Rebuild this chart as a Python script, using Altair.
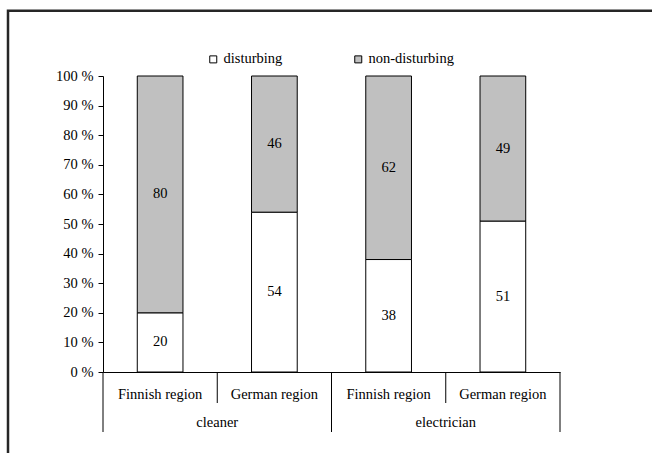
import altair as alt
import pandas as pd

# ---- data ----
occupations = ["cleaner", "cleaner", "electrician", "electrician"]
regions = ["Finnish region", "German region", "Finnish region", "German region"]
disturbing = [20, 54, 38, 51]
non_disturbing = [80, 46, 62, 49]
series_names = ["disturbing", "non-disturbing"]
series_colors = ["#FFFFFF", "#C0C0C0"]
y_ticks = [0, 10, 20, 30, 40, 50, 60, 70, 80, 90, 100]

FONT = "Liberation Serif, Times New Roman, serif"
FS = 14.5
W, H = 457, 296

keys = [f"{o}|{r}" for o, r in zip(occupations, regions)]

rows = []
for k, o, r, d, n in zip(keys, occupations, regions, disturbing, non_disturbing):
    rows.append(dict(key=k, occupation=o, region=r, series=series_names[0],
                     value=d, start=0, end=d, mid=d / 2))
    rows.append(dict(key=k, occupation=o, region=r, series=series_names[1],
                     value=n, start=d, end=d + n, mid=d + n / 2))
df = pd.DataFrame(rows)

xscale = alt.Scale(domain=keys, paddingInner=0, paddingOuter=0)
yscale = alt.Scale(domain=[0, 100], nice=False)
xaxis = alt.Axis(labels=False, ticks=False, title=None,
                 domainColor="black", domainWidth=1)
yaxis = alt.Axis(values=y_ticks, labelExpr="datum.value + ' %'",
                 title=None, grid=False, domainColor="black",
                 tickColor="black", tickSize=5, labelPadding=5,
                 labelFont=FONT, labelFontSize=FS, labelColor="black")

bars = alt.Chart(df).mark_bar(
    width=alt.RelativeBandSize(0.4), stroke="black", strokeWidth=1
).encode(
    x=alt.X("key:N", sort=keys, scale=xscale, axis=xaxis),
    y=alt.Y("start:Q", scale=yscale, axis=yaxis),
    y2="end:Q",
    color=alt.Color("series:N",
                    scale=alt.Scale(domain=series_names, range=series_colors),
                    legend=alt.Legend(title=None, orient="none", direction="horizontal",
                                      legendX=103, legendY=-24, padding=0,
                                      symbolType="square", symbolSize=49,
                                      symbolStrokeColor="black", symbolStrokeWidth=1,
                                      labelFont=FONT, labelFontSize=FS,
                                      labelColor="black", labelOffset=3,
                                      columnPadding=68)),
)

labels = alt.Chart(df).mark_text(
    font=FONT, fontSize=FS, color="black", baseline="middle"
).encode(
    x=alt.X("key:N", sort=keys, scale=xscale, axis=xaxis),
    y=alt.Y("mid:Q", scale=yscale, axis=yaxis),
    text="value:Q",
)

# region labels under each bar
reg_df = pd.DataFrame({"key": keys, "region": regions})
region_text = alt.Chart(reg_df).mark_text(
    font=FONT, fontSize=FS, color="black", baseline="middle"
).encode(
    x=alt.X("key:N", sort=keys, scale=xscale, axis=xaxis),
    y=alt.value(H + 23),
    text="region:N",
)

# occupation labels centered on each group (boundary between its two regions)
groups = []
for o in dict.fromkeys(occupations):
    gkeys = [k for k, oo in zip(keys, occupations) if oo == o]
    groups.append(dict(occupation=o, key=gkeys[1]))
occ_df = pd.DataFrame(groups)
occ_text = alt.Chart(occ_df).mark_text(
    font=FONT, fontSize=FS, color="black", baseline="middle"
).encode(
    x=alt.X("key:N", sort=keys, scale=xscale, axis=xaxis, bandPosition=0),
    y=alt.value(H + 51),
    text="occupation:N",
)

# divider lines of the grouped axis
first_keys = [keys[i] for i in range(len(keys)) if i == 0 or occupations[i] != occupations[i - 1]]
inner_keys = [k for k in keys if k not in first_keys]
long_div = alt.Chart(pd.DataFrame({"key": first_keys})).mark_rule(
    color="black", strokeWidth=1
).encode(
    x=alt.X("key:N", sort=keys, scale=xscale, axis=xaxis, bandPosition=0),
    y=alt.value(H), y2=alt.value(H + 60),
)
end_div = alt.Chart(pd.DataFrame({"key": [keys[-1]]})).mark_rule(
    color="black", strokeWidth=1
).encode(
    x=alt.X("key:N", sort=keys, scale=xscale, axis=xaxis, bandPosition=1),
    y=alt.value(H), y2=alt.value(H + 60),
)
short_div = alt.Chart(pd.DataFrame({"key": inner_keys})).mark_rule(
    color="black", strokeWidth=1
).encode(
    x=alt.X("key:N", sort=keys, scale=xscale, axis=xaxis, bandPosition=0),
    y=alt.value(H), y2=alt.value(H + 31),
)

# outer frame
frame = alt.Chart(pd.DataFrame({"f": [0]})).mark_rect(
    filled=False, stroke="#262626", strokeWidth=2.5
).encode(
    x=alt.value(-95), x2=alt.value(800),
    y=alt.value(-65.3), y2=alt.value(600),
)

chart = alt.layer(
    frame, bars, labels, region_text, occ_text, long_div, end_div, short_div
).properties(
    width=W, height=H,
    autosize=alt.AutoSizeParams(type="none"),
    padding={"left": 103, "top": 76, "right": 92, "bottom": 81},
    background="white",
).configure_view(strokeWidth=0).configure_legend(
    labelFont=FONT, labelFontSize=FS, labelColor="black"
).configure_axis(labelFont=FONT)

chart.save("out.html", embed_options={"renderer": "svg", "actions": False})
